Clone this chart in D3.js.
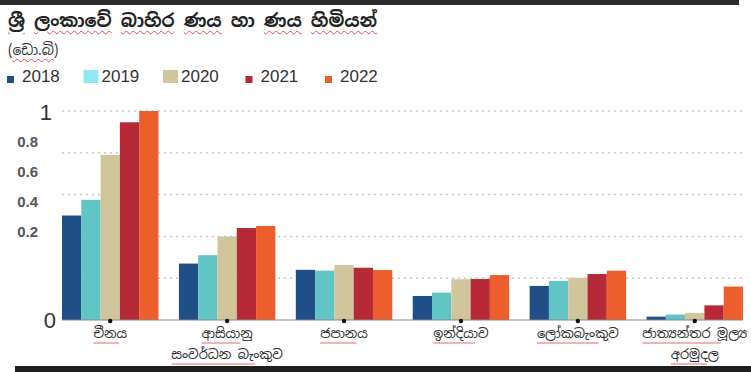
<!DOCTYPE html>
<html>
<head>
<meta charset="utf-8">
<script src="https://cdn.jsdelivr.net/npm/d3@7"></script>
<style>
  body { margin: 0; background: #fff; }
  #wrap { position: relative; width: 751px; height: 372px; overflow: hidden; }
  #chart { position: absolute; left: 0; top: 0; }
  .si { font-family: "Noto Sans Sinhala", "Iskoola Pota", "Noto Sans", sans-serif; }
  .title { position: absolute; left: 8px; top: 9px; font-size: 18px; font-weight: bold; color: #222; white-space: nowrap; }
  .sub { position: absolute; left: 8px; top: 41px; font-size: 14px; color: #333; }
  .sq { text-decoration: underline wavy #e0525a 1px; text-underline-offset: 3px; }
  .sq.blue { text-decoration-color: #5b7fd6; }
</style>
</head>
<body>
<div id="wrap">
  <svg id="chart" width="751" height="372"></svg>
  <div class="title si"><span class="sq blue">ශ්‍රී</span> <span class="sq">ලංකාවේ</span> <span class="sq">බාහිර</span> <span class="sq">ණය</span> හා <span class="sq">ණය</span> <span class="sq">හිමියන්</span></div>
  <div class="sub si">(<span class="sq">ඩො.බි</span>)</div>
</div>
<script>
// creditors and their debt figures, per year
const categories = [
  ["චීනය"],
  ["ආසියානු", "සංවර්ධන බැංකුව"],
  ["ජපානය"],
  ["ඉන්දියාව"],
  ["ලෝකබැංකුව"],
  ["ජාත්‍යන්තර මූල්‍ය", "අරමුදල"]
];
const years = ["2018", "2019", "2020", "2021", "2022"];
const v2018 = [0.50, 0.27, 0.24, 0.115, 0.163, 0.016];
const v2019 = [0.575, 0.31, 0.236, 0.131, 0.187, 0.026];
const v2020 = [0.79, 0.40, 0.263, 0.195, 0.202, 0.034];
const v2021 = [0.946, 0.44, 0.25, 0.196, 0.22, 0.07];
const v2022 = [1.0, 0.45, 0.239, 0.215, 0.236, 0.16];
const yTicks = [0, 0.2, 0.4, 0.6, 0.8, 1];

const series = [v2018, v2019, v2020, v2021, v2022];
const colors = ["#1f4f86", "#62c5c5", "#d0c59b", "#b62a38", "#ec5f2d"];
const legendColors = ["#1f4f86", "#8ee9f0", "#d0c59b", "#b62a38", "#ec5f2d"];
const legendBig = [false, true, true, false, false];

const svg = d3.select("#chart");

const catIdx = categories.map((d, i) => i);
const x0 = d3.scaleBand().domain(catIdx).range([62, 743]).paddingInner(0.175).paddingOuter(0);
const x1 = d3.scaleBand().domain(years).range([0, x0.bandwidth()]);
const y = d3.scaleLinear().domain([0, 1]).range([320, 111]);
// the tick labels in the source sit off their gridlines
const labelY = d3.scaleLinear().domain([0.2, 1]).range([232, 112]);

// frame bars
svg.append("rect").attr("x", 0).attr("y", 0).attr("width", 739).attr("height", 5).attr("fill", "#2b2b2b");
svg.append("rect").attr("x", 15).attr("y", 366).attr("width", 736).attr("height", 6).attr("fill", "#1e1e1e");

// gridlines
svg.append("g").selectAll("line")
  .data(yTicks.filter(t => t > 0))
  .enter().append("line")
    .attr("x1", 62).attr("x2", 743)
    .attr("y1", d => y(d)).attr("y2", d => y(d))
    .attr("stroke", "#c8c8c8").attr("stroke-width", 1.5)
    .attr("stroke-dasharray", "2,4");

// tick labels
svg.append("g").selectAll("text")
  .data(yTicks)
  .enter().append("text")
    .attr("x", d => d === 0 ? 56 : (d === 1 ? 52 : 38))
    .attr("y", d => d === 0 ? y(0) : labelY(d))
    .attr("dy", "0.36em")
    .attr("text-anchor", "end")
    .attr("font-family", "Liberation Sans, Arial, sans-serif")
    .attr("font-size", d => (d === 0 || d === 1) ? 22 : 15)
    .attr("font-weight", d => (d === 0 || d === 1) ? "normal" : "bold")
    .attr("fill", d => (d === 0 || d === 1) ? "#333" : "#555")
    .text(d => d3.format("~g")(d));

// bars
const groups = svg.append("g").selectAll("g")
  .data(catIdx)
  .enter().append("g")
    .attr("transform", d => "translate(" + x0(d) + ",0)");

groups.selectAll("rect")
  .data(i => years.map((yr, k) => ({yr: yr, k: k, v: series[k][i]})))
  .enter().append("rect")
    .attr("x", d => x1(d.yr))
    .attr("y", d => y(d.v))
    .attr("width", x1.bandwidth())
    .attr("height", d => y(0) - y(d.v))
    .attr("fill", d => colors[d.k]);

// baseline and tick dots
svg.append("line")
  .attr("x1", 62).attr("x2", 743).attr("y1", y(0)).attr("y2", y(0))
  .attr("stroke", "#888").attr("stroke-width", 1.2);

svg.append("g").selectAll("circle")
  .data(catIdx)
  .enter().append("circle")
    .attr("cx", d => x0(d) + x0.bandwidth() / 2)
    .attr("cy", y(0) + 1)
    .attr("r", 2.2)
    .attr("fill", "#111");

// category labels
const labels = svg.append("g").selectAll("text")
  .data(catIdx)
  .enter().append("text")
    .attr("class", "si")
    .attr("x", d => x0(d) + x0.bandwidth() / 2)
    .attr("y", 338)
    .attr("text-anchor", "middle")
    .attr("font-size", 13)
    .attr("fill", "#2a2a2a");

labels.selectAll("tspan")
  .data(d => categories[d])
  .enter().append("tspan")
    .attr("x", function () { return this.parentNode.getAttribute("x"); })
    .attr("dy", (d, i) => i === 0 ? 0 : 21)
    .text(d => d);

// spell-check squiggles under the labels
labels.each(function () {
  const parent = this.parentNode;
  d3.select(this).selectAll("tspan").each(function () {
    const b = this.getBBox();
    d3.select(parent).append("line")
      .attr("x1", b.x).attr("x2", b.x + b.width * 0.75)
      .attr("y1", b.y + b.height + 1).attr("y2", b.y + b.height + 1)
      .attr("stroke", "#e36b72").attr("stroke-width", 1);
  });
});

// legend
const legX = d3.scaleLinear().domain([0, years.length - 1]).range([22, 340]);
const legend = svg.append("g").selectAll("g")
  .data(years)
  .enter().append("g")
    .attr("transform", (d, i) => "translate(" + legX(i) + ",76)");

legend.append("rect")
  .attr("x", (d, i) => legendBig[i] ? -18 : -15)
  .attr("y", (d, i) => legendBig[i] ? -6 : 0)
  .attr("width", (d, i) => legendBig[i] ? 15 : 7)
  .attr("height", (d, i) => legendBig[i] ? 13 : 7)
  .attr("fill", (d, i) => legendColors[i]);

legend.append("text")
  .attr("y", 0)
  .attr("dy", "0.36em")
  .attr("font-family", "Liberation Sans, Arial, sans-serif")
  .attr("font-size", 17)
  .attr("fill", "#333")
  .text(d => d);
</script>
</body>
</html>
